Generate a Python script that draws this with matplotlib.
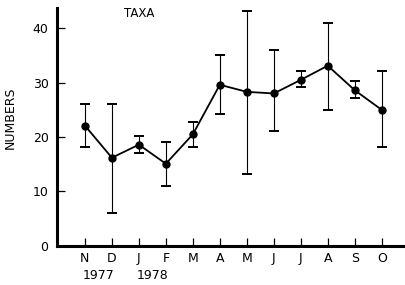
import matplotlib.pyplot as plt
from matplotlib.transforms import blended_transform_factory

plt.rcParams['font.family'] = ['DejaVu Sans']

# monthly means with error-bar limits
months = ["N", "D", "J", "F", "M", "A", "M", "J", "J", "A", "S", "O"]
means = [22.1, 16.2, 18.6, 15.1, 20.5, 29.6, 28.3, 28.0, 30.5, 33.1, 28.6, 25.0]
upper = [26.1, 26.1, 20.2, 19.1, 22.8, 35.0, 43.2, 36.0, 32.1, 40.9, 30.2, 32.1]
lower = [18.1, 6.0, 17.1, 11.1, 18.2, 24.2, 13.2, 21.1, 29.1, 25.0, 27.1, 18.2]
years = ["1977", "1978"]
year_pos = [0.5, 2.5]

x = list(range(len(months)))
yerr = [[m - lo for m, lo in zip(means, lower)],
        [up - m for m, up in zip(means, upper)]]

fig = plt.figure(figsize=(4.06, 2.85), dpi=100)
ax = fig.add_axes([0.140, 0.137, 0.860, 0.835])

ax.errorbar(x, means, yerr=yerr, fmt="none", ecolor="black",
            elinewidth=0.8, capsize=3.5, capthick=1.4)
ax.plot(x, means, color="black", lw=1.3, marker="o", ms=5)

ax.set_xlim(-1.04, 11.9)
ax.set_ylim(0, 43.7)
ax.set_yticks([0, 10, 20, 30, 40])
ax.set_xticks(x)
ax.set_xticklabels(months)

for s in ["top", "right"]:
    ax.spines[s].set_visible(False)
ax.spines["left"].set_linewidth(2.2)
ax.spines["bottom"].set_linewidth(2.2)

ax.tick_params(axis="y", direction="in", length=6, width=0.9, pad=6, labelsize=9)
ax.tick_params(axis="x", direction="in", length=6, width=0.9, pad=4, labelsize=9)

ax.set_ylabel("NUMBERS", fontsize=9)
ax.yaxis.set_label_coords(-0.115, 0.54)

ax.text(0.235, 0.975, "TAXA", transform=ax.transAxes, ha="center", va="center",
        fontsize=8.5)

trans = blended_transform_factory(ax.transData, ax.transAxes)
for xp, yr in zip(year_pos, years):
    ax.text(xp, -0.095, yr, transform=trans, ha="center", va="top", fontsize=9)

fig.savefig("out.png", dpi=100)
